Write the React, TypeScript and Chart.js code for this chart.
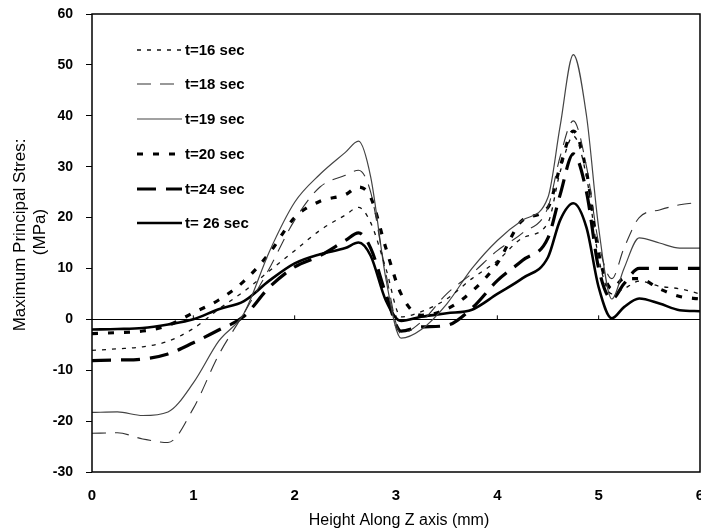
import React, { useEffect, useRef } from 'react';
import { Chart, registerables } from 'chart.js';
Chart.register(...registerables);

const X = [0, 0.25, 0.5, 0.75, 1.0, 1.25, 1.5, 1.75, 2.0, 2.25, 2.5, 2.63, 2.75, 2.9, 3.05, 3.25, 3.5, 3.75, 4.0, 4.25, 4.5, 4.62, 4.75, 4.88, 5.0, 5.13, 5.25, 5.4, 5.6, 5.8, 6.0];

const T16 = [-6.1, -5.8, -5.4, -4.3, -1.8, 2.0, 5.5, 9.5, 13.5, 17.5, 20.5, 22, 19, 10, 0.5, 1.5, 4, 8, 11.5, 16, 19, 29, 36, 28, 12, 5, 6, 7.5, 6.5, 6, 5];
const T18 = [-22.4, -22.3, -23.5, -24.2, -17.5, -7, 1.2, 10, 19.5, 26, 28.3, 29.3, 25, 9, -2.8, -0.5, 5, 9, 13.5, 17, 22, 32, 39, 30, 15, 8, 14, 20, 21.5, 22.5, 23];
const T19 = [-18.3, -18.2, -18.9, -18.2, -12.5, -4.3, 1.2, 13.3, 23, 28.5, 32.8, 35, 28, 8, -3.7, -2, 3, 10, 15.5, 19.5, 24, 38, 52, 40, 18, 4, 10, 16, 15, 14, 14];
const T20 = [-2.8, -2.6, -2.3, -1.2, 1.3, 3.8, 7.5, 13, 20, 23.2, 24.5, 26, 24, 14, 5, 0.8, 2, 5.5, 11, 19.5, 22, 30, 37, 29, 13, 6, 8, 8, 6, 4.5, 4];
const T24 = [-8.1, -8.0, -7.8, -6.8, -4.6, -2.1, 0.6, 6.3, 10.3, 12.5, 15.5, 17, 14, 5, -2.3, -1.5, -1.2, 2.2, 7.6, 11.6, 16, 24.5, 32.5, 25, 10, 4, 7, 10, 10, 10, 10];
const T26 = [-2.0, -1.9, -1.7, -1.0, 0, 2.0, 3.6, 7.6, 11, 12.8, 14, 15.1, 12.5, 3.7, -0.3, 0.5, 1.2, 1.9, 5, 8.1, 12.2, 19.5, 22.8, 18, 6.3, 0.2, 2.4, 4.1, 3.1, 1.8, 1.6];

const LABELS = ['t=16 sec', 't=18 sec', 't=19 sec', 't=20 sec', 't=24 sec', 't= 26 sec'];
const X_TICKS = [0, 1, 2, 3, 4, 5, 6];
const Y_TICKS = [-30, -20, -10, 0, 10, 20, 30, 40, 50, 60];
const X_TITLE = 'Height Along Z axis (mm)';
const Y_TITLE = ['Maximum Principal Stres:', '(MPa)'];

const SERIES = [T16, T18, T19, T20, T24, T26];
const STYLES = [
  { color: '#111', width: 1.3, dash: [4, 6] },
  { color: '#333', width: 1.1, dash: [14, 9] },
  { color: '#444', width: 1.2, dash: [] as number[] },
  { color: '#000', width: 3.2, dash: [6, 10] },
  { color: '#000', width: 3.2, dash: [19, 10] },
  { color: '#000', width: 2.6, dash: [] as number[] },
];

const FONT = 'Arial, "Liberation Sans", sans-serif';

const extrasPlugin = {
  id: 'extras',
  afterDraw(chart: any) {
    const { ctx, chartArea } = chart;
    const xs = chart.scales.x;
    const ys = chart.scales.y;
    ctx.save();
    // frame
    ctx.strokeStyle = '#000';
    ctx.lineWidth = 1.5;
    ctx.setLineDash([]);
    ctx.strokeRect(chartArea.left, chartArea.top, chartArea.right - chartArea.left, chartArea.bottom - chartArea.top);
    // small ticks on zero line
    const y0 = ys.getPixelForValue(0);
    ctx.lineWidth = 1;
    for (const v of X_TICKS) {
      if (v === 0 || v === 6) continue;
      const px = xs.getPixelForValue(v);
      ctx.beginPath();
      ctx.moveTo(px, y0);
      ctx.lineTo(px, y0 - 4);
      ctx.stroke();
    }
    // legend
    const rows = [50, 84, 119, 154, 189, 223];
    LABELS.forEach((lab, i) => {
      const st = STYLES[i];
      ctx.strokeStyle = st.color;
      ctx.lineWidth = st.width;
      ctx.setLineDash(st.dash);
      ctx.beginPath();
      ctx.moveTo(137, rows[i]);
      ctx.lineTo(182, rows[i]);
      ctx.stroke();
      ctx.setLineDash([]);
      ctx.fillStyle = '#000';
      ctx.font = `bold 15px ${FONT}`;
      ctx.textAlign = 'left';
      ctx.textBaseline = 'middle';
      ctx.fillText(lab, 185, rows[i] + 1);
    });
    // axis titles
    ctx.fillStyle = '#000';
    ctx.font = `16px ${FONT}`;
    ctx.textAlign = 'center';
    ctx.textBaseline = 'middle';
    ctx.fillText(X_TITLE, 399, 521);
    ctx.font = `17px ${FONT}`;
    ctx.save();
    ctx.translate(20, 235);
    ctx.rotate(-Math.PI / 2);
    ctx.fillText(Y_TITLE[0], 0, 0);
    ctx.restore();
    ctx.save();
    ctx.translate(40, 232);
    ctx.rotate(-Math.PI / 2);
    ctx.fillText(Y_TITLE[1], 0, 0);
    ctx.restore();
    ctx.restore();
  },
};

export default function App() {
  const ref = useRef<HTMLCanvasElement>(null);
  useEffect(() => {
    if (!ref.current) return;
    const chart = new Chart(ref.current, {
      type: 'line',
      data: {
        datasets: SERIES.map((s, i) => ({
          label: LABELS[i],
          data: s.map((v, j) => ({ x: X[j], y: v })),
          borderColor: STYLES[i].color,
          borderWidth: STYLES[i].width,
          borderDash: STYLES[i].dash,
          pointRadius: 0,
          fill: false,
          cubicInterpolationMode: 'monotone' as const,
        })),
      },
      options: {
        responsive: false,
        animation: false,
        layout: { padding: { top: 14, right: 1, left: 0, bottom: 0 } },
        plugins: { legend: { display: false }, tooltip: { enabled: false } },
        scales: {
          x: {
            type: 'linear',
            min: 0,
            max: 6,
            afterBuildTicks: (s: any) => { s.ticks = X_TICKS.map((v) => ({ value: v })); },
            grid: { display: false, drawTicks: false },
            border: { display: false },
            ticks: { color: '#000', font: { family: FONT, size: 15, weight: 'bold' }, padding: 15, maxRotation: 0, autoSkip: false },
            afterFit: (s: any) => { s.height = 59; s.paddingLeft = 0; s.paddingRight = 0; },
          },
          y: {
            type: 'linear',
            min: -30,
            max: 60,
            afterBuildTicks: (s: any) => { s.ticks = Y_TICKS.map((v) => ({ value: v })); },
            grid: {
              color: (c: any) => (c.tick && c.tick.value === 0 ? '#000' : 'rgba(0,0,0,0)'),
              lineWidth: 1,
              tickColor: '#000',
              tickLength: 6,
              drawTicks: true,
            },
            border: { display: false },
            ticks: { color: '#000', font: { family: FONT, size: 14, weight: 'bold' }, padding: 13 },
            afterFit: (s: any) => { s.width = 92; s.paddingTop = 0; s.paddingBottom = 0; },
          },
        },
      },
      plugins: [extrasPlugin],
    } as any);
    return () => chart.destroy();
  }, []);
  return (
    <div style={{ position: 'absolute', left: 0, top: 0, width: 701, height: 531, background: '#fff' }}>
      <canvas ref={ref} width={701} height={531} />
    </div>
  );
}
